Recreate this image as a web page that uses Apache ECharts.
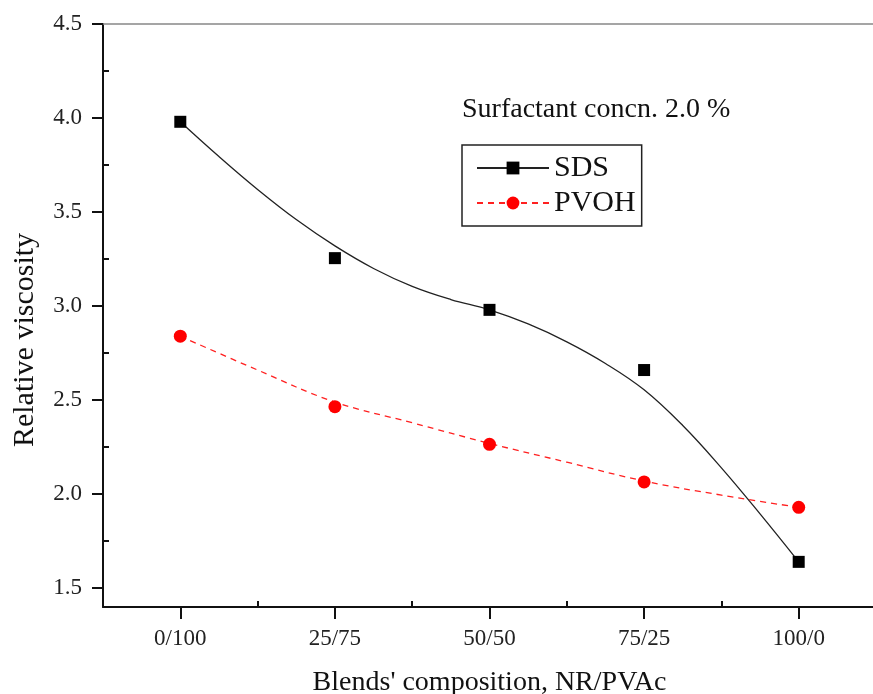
<!DOCTYPE html>
<html>
<head>
<meta charset="utf-8">
<script src="https://cdn.jsdelivr.net/npm/echarts@6/dist/echarts.min.js"></script>
<style>
html,body{margin:0;padding:0;background:#fff;}
#chart{width:873px;height:694px;}
</style>
</head>
<body>
<div id="chart"></div>
<script>
// Categories (x positions 0..4)
const categories = ['0/100', '25/75', '50/50', '75/25', '100/0'];
// Measured points
const sdsValues = [3.98, 3.255, 2.98, 2.66, 1.64];
const pvohValues = [2.84, 2.465, 2.265, 2.065, 1.93];
// Fitted curves: x positions and values
const sdsCurveX = [0, 0.25, 0.5, 0.75, 1, 1.25, 1.5, 1.75, 2, 2.25, 2.5, 2.75, 3, 3.25, 3.5, 3.75, 4];
const sdsCurveY = [3.98, 3.795, 3.62, 3.46, 3.32, 3.2, 3.105, 3.035, 2.98, 2.905, 2.81, 2.695, 2.555, 2.365, 2.14, 1.895, 1.64];
const pvohCurveX = [0, 0.5, 1, 1.5, 2, 2.5, 3, 3.5, 4];
const pvohCurveY = [2.84, 2.66, 2.49, 2.38, 2.27, 2.17, 2.07, 1.995, 1.93];
// Tick values
const yMajorTicks = [1.5, 2.0, 2.5, 3.0, 3.5, 4.0, 4.5];
const yMinorTicks = [1.75, 2.25, 2.75, 3.25, 3.75, 4.25];
const xMajorTicks = [0, 1, 2, 3, 4];
const xMinorTicks = [0.5, 1.5, 2.5, 3.5];

const FONT = '"Liberation Serif", "Times New Roman", serif';
const chart = echarts.init(document.getElementById('chart'));

const sdsPts = sdsValues.map((v, i) => [i, v]);
const pvohPts = pvohValues.map((v, i) => [i, v]);
const sdsCurve = sdsCurveX.map((x, i) => [x, sdsCurveY[i]]);
const pvohCurve = pvohCurveX.map((x, i) => [x, pvohCurveY[i]]);

chart.setOption({
  animation: false,
  backgroundColor: '#fff',
  grid: { left: 103, top: 24, width: 773, height: 583, outerBoundsMode: 'none', containLabel: false },
  xAxis: [
    {
      type: 'value', min: -0.5, max: 4.5, position: 'bottom',
      name: "Blends' composition, NR/PVAc", nameLocation: 'middle', nameGap: 62,
      nameTextStyle: { fontFamily: FONT, fontSize: 28, color: '#111' },
      axisLine: { show: true, onZero: false, lineStyle: { color: '#111', width: 2 } },
      axisTick: { show: true, inside: false, length: 12, customValues: xMajorTicks, lineStyle: { color: '#111', width: 2 } },
      axisLabel: { customValues: xMajorTicks, margin: 20, fontFamily: FONT, fontSize: 23, color: '#222',
        formatter: v => categories[Math.round(v)] },
      splitLine: { show: false }
    },
    {
      type: 'value', min: -0.5, max: 4.5, position: 'bottom',
      axisLine: { show: false, onZero: false },
      axisTick: { show: true, inside: true, length: 6, customValues: xMinorTicks, lineStyle: { color: '#111', width: 2 } },
      axisLabel: { show: false },
      splitLine: { show: false }
    },
    {
      type: 'value', min: -0.5, max: 4.5, position: 'top',
      axisLine: { show: true, onZero: false, lineStyle: { color: '#888', width: 1.5 } },
      axisTick: { show: false }, axisLabel: { show: false }, splitLine: { show: false }
    }
  ],
  yAxis: [
    {
      type: 'value', min: 1.4, max: 4.5, position: 'left',
      axisLine: { show: true, onZero: false, lineStyle: { color: '#111', width: 2 } },
      axisTick: { show: true, inside: false, length: 11, customValues: yMajorTicks, lineStyle: { color: '#111', width: 2 } },
      axisLabel: { customValues: yMajorTicks, margin: 21, fontFamily: FONT, fontSize: 23, color: '#222',
        formatter: v => v.toFixed(1) },
      splitLine: { show: false }
    },
    {
      type: 'value', min: 1.4, max: 4.5, position: 'left',
      axisLine: { show: false, onZero: false },
      axisTick: { show: true, inside: true, length: 6, customValues: yMinorTicks, lineStyle: { color: '#111', width: 2 } },
      axisLabel: { show: false },
      splitLine: { show: false }
    }
  ],
  legend: {
    data: ['SDS', 'PVOH'],
    orient: 'vertical',
    left: 462, top: 145,
    padding: [8, 6, 8, 14],
    itemGap: 5,
    itemWidth: 72, itemHeight: 16,
    borderColor: '#222', borderWidth: 1.5,
    textStyle: { fontFamily: FONT, fontSize: 30, color: '#111' }
  },
  graphic: [
    { type: 'text', left: 462, top: 96,
      style: { text: 'Surfactant concn. 2.0 %', font: '28px ' + FONT, fill: '#111' } },
    { type: 'text', x: 25, y: 340, rotation: Math.PI / 2,
      style: { text: 'Relative viscosity', font: '30px ' + FONT, fill: '#111',
        textAlign: 'center', textVerticalAlign: 'middle' } }
  ],
  series: [
    { name: 'SDS', type: 'line', data: sdsCurve, smooth: 0.4, showSymbol: false,
      symbol: 'rect', symbolSize: 12, xAxisIndex: 0, yAxisIndex: 0,
      itemStyle: { color: '#000' }, lineStyle: { color: '#222', width: 1.3 }, z: 3 },
    { name: 'PVOH', type: 'line', data: pvohCurve, smooth: 0.4, showSymbol: false,
      symbol: 'circle', symbolSize: 13, xAxisIndex: 0, yAxisIndex: 0,
      itemStyle: { color: '#ff0000' }, lineStyle: { color: '#ff2020', width: 1.3, type: [6, 5] }, z: 3 },
    { name: 'SDS points', type: 'scatter', data: sdsPts, symbol: 'rect', symbolSize: 12,
      xAxisIndex: 0, yAxisIndex: 0, itemStyle: { color: '#000', opacity: 1 }, z: 4 },
    { name: 'PVOH points', type: 'scatter', data: pvohPts, symbol: 'circle', symbolSize: 13,
      xAxisIndex: 0, yAxisIndex: 0, itemStyle: { color: '#ff0000', opacity: 1 }, z: 4 }
  ]
});
</script>
</body>
</html>
